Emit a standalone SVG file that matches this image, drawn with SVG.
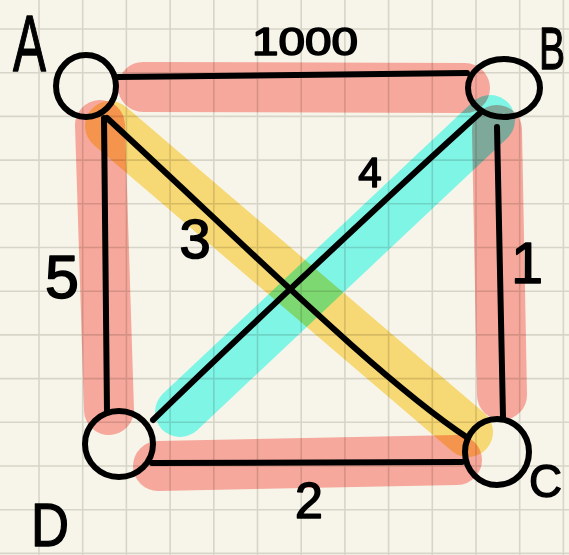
<svg xmlns="http://www.w3.org/2000/svg" width="569" height="555" viewBox="0 0 569 555">
<style>
.grid{stroke:#d7d4c8;stroke-width:1.6;fill:none}
.hl{fill:none;stroke-width:50;stroke-linecap:round;stroke-linejoin:round}
.red{stroke:#feafaa}
.yel{stroke:#fee17e}
.cya{stroke:#83fffb}
.blend{mix-blend-mode:multiply}
.edge{fill:none;stroke:#000;stroke-width:6;stroke-linecap:round;stroke-linejoin:round}
.node{fill:none;stroke:#000;stroke-width:6}
.lbl{font-family:"Liberation Sans",Arial,sans-serif;fill:#000;stroke:#000;stroke-width:1.6;stroke-linejoin:round;text-anchor:middle}
.big{font-family:"Liberation Sans",Arial,sans-serif;fill:#000;stroke:#000;stroke-width:1.4;stroke-linejoin:round}
</style>
<rect width="569" height="555" fill="#f7f5ea"/>
<path class="grid" d="M39 0V555M82.7 0V555M126.4 0V555M170.1 0V555M213.8 0V555M257.5 0V555M301.2 0V555M344.9 0V555M388.6 0V555M432.3 0V555M476 0V555M519.7 0V555M563.4 0V555M0 29H569M0 72.7H569M0 116.4H569M0 160.1H569M0 203.8H569M0 247.5H569M0 291.2H569M0 334.9H569M0 378.6H569M0 422.3H569M0 466H569M0 509.7H569M0 553.4H569"/>
<g id="highlights">
<g class="blend">
<path class="hl red" d="M143 87L465 88M100 125L109 410M497 130L502 395M158 466L457 460"/>
</g>
<g class="blend">
<path class="hl yel" d="M110 126L468 432"/>
</g>
<g class="blend">
<path class="hl cya" d="M490 120L180 412"/>
</g>
</g>
<g id="connectors">
<path class="edge" d="M118 77L467 73"/>
<path class="edge" d="M104 118L107 412"/>
<path class="edge" d="M107 118C250 250 380 380 468 438"/>
<path class="edge" d="M480 113C400 185 230 345 153 420"/>
<path class="edge" d="M497 127L503 417"/>
<path class="edge" d="M152 463L462 462"/>
</g>
<g id="node-A"><ellipse class="node" cx="86" cy="86" rx="30" ry="31"/><text class="big" x="13" y="71" font-size="80" textLength="33" lengthAdjust="spacingAndGlyphs">A</text></g>
<g id="node-B"><ellipse class="node" cx="504" cy="88" rx="36" ry="29"/><text class="big" x="539" y="69" font-size="60" textLength="26" lengthAdjust="spacingAndGlyphs">B</text></g>
<g id="node-C"><ellipse class="node" cx="497" cy="452" rx="32" ry="33"/><text class="big" x="529" y="497" font-size="47" textLength="33" lengthAdjust="spacingAndGlyphs">C</text></g>
<g id="node-D"><ellipse class="node" cx="119" cy="444" rx="34" ry="33"/><text class="big" x="31" y="546" font-size="62" textLength="38" lengthAdjust="spacingAndGlyphs">D</text></g>
<g id="labels">
<text class="lbl" x="305" y="55" font-size="39" textLength="106" lengthAdjust="spacingAndGlyphs">1000</text>
<text class="lbl" x="370" y="187" font-size="42">4</text>
<text class="lbl" x="195" y="258" font-size="56">3</text>
<text class="lbl" x="62" y="298" font-size="61">5</text>
<text class="lbl" x="527" y="283" font-size="57">1</text>
<text class="lbl" x="309" y="518" font-size="50">2</text>
</g>
</svg>
